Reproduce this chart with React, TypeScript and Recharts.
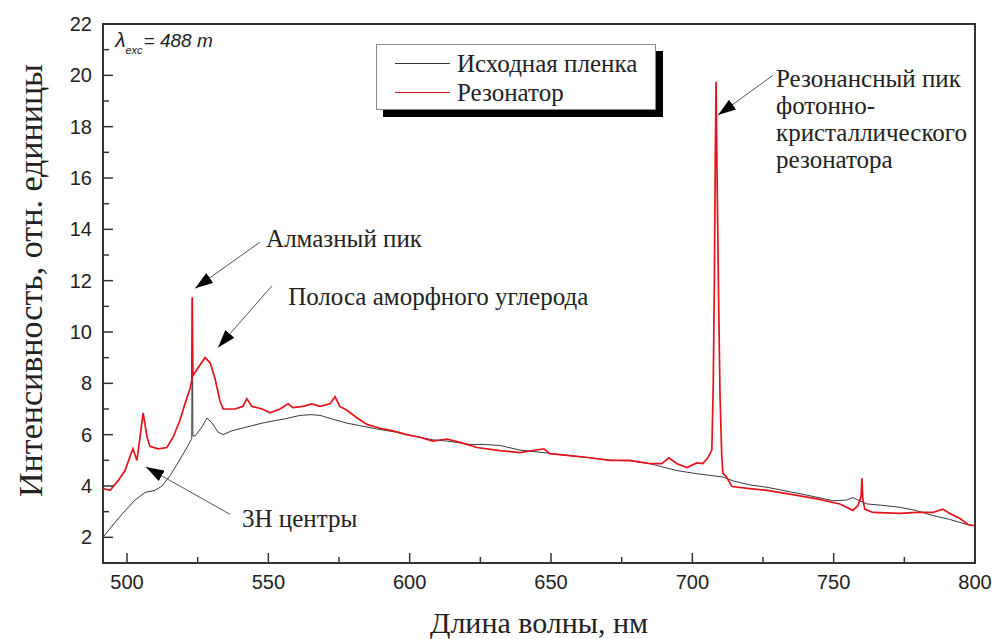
import {
  LineChart,
  Line,
  XAxis,
  YAxis,
  Label,
  Legend,
  ReferenceArea,
  ReferenceDot,
  ReferenceLine,
} from "recharts";

// wavelength (nm) / intensity
const filmNm = [
  491.5, 494.0, 498.2, 502.8, 506.4, 509.9, 512.4, 515.2, 518.0, 521.2, 522.9, 523.1, 523.3, 524.1,
  526.5, 528.3, 530.1, 532.2, 534.0, 537.1, 541.7, 547.8, 552.4, 556, 561.2, 565, 568.3, 572.9,
  577.8, 582.4, 589.5, 594.1, 599.0, 603.6, 608.2, 613.2, 617.8, 621.3, 626, 631.9, 639.0, 647.5,
  656.7, 663.8, 670.9, 677.9, 685.0, 689.2, 694.6, 701.6, 710.8, 714.4, 720, 726.4, 738.1, 749.7,
  754.5, 756.8, 758.6, 761.8, 767, 773.4, 779, 785.1, 791, 797.1, 800,
];
const filmVal = [
  2.0, 2.35, 2.9, 3.45, 3.75, 3.83, 4.0, 4.4, 4.9, 5.5, 5.85, 11.3, 5.95, 5.95,
  6.3, 6.65, 6.45, 6.1, 6.0, 6.15, 6.28, 6.45, 6.55, 6.62, 6.75, 6.78, 6.75, 6.6,
  6.45, 6.35, 6.2, 6.12, 6.0, 5.9, 5.8, 5.75, 5.68, 5.62, 5.62, 5.58, 5.4, 5.3,
  5.18, 5.1, 5.0, 4.98, 4.87, 4.75, 4.6, 4.48, 4.35, 4.2, 4.05, 3.95, 3.7, 3.43,
  3.45, 3.55, 3.45, 3.3, 3.25, 3.17, 3.05, 2.85, 2.7, 2.5, 2.45,
];

const resNm = [
  491.5, 494.0, 496.8, 499.3, 501.4, 502.1, 503.5, 504.6, 505.7, 507.1,
  508.1, 511.0, 514.1, 516.3, 518.7, 520.5, 522.3, 522.9, 523.1, 523.3,
  525.1, 527.6, 529.4, 531.1, 532.9, 534.0, 538.2, 541.0, 542.4, 544.2,
  547.8, 550.6, 554.1, 557.0, 558.7, 562.3, 565.4, 568.3, 571.8, 573.6,
  575.3, 577.8, 581.4, 584.9, 589.5, 594.1, 599.0, 603.6, 608.2, 613.2,
  617.8, 623.8, 631.9, 639.0, 647.5, 649.6, 656.7, 663.8, 670.9, 677.9,
  685.0, 689.2, 691.7, 694.6, 698.1, 701.6, 703.7, 705.5, 706.9, 707.4,
  707.8, 708.1, 708.4, 708.7, 709.2, 709.8, 710.4, 710.8, 712.2, 714.0,
  720.4, 726.4, 733.5, 744.1, 752.2, 756.8, 758.6, 759.7, 760.0, 760.3,
  761.0, 763.9, 773.4, 779.4, 785.1, 788.6, 791.1, 794.7, 797.5, 800,
];
const resVal = [
  3.9, 3.83, 4.2, 4.6, 5.25, 5.45, 5.0, 5.9, 6.85, 5.9,
  5.55, 5.45, 5.5, 5.9, 6.55, 7.2, 7.8, 8.1, 11.35, 8.3,
  8.6, 9.0, 8.8, 8.2, 7.3, 7.0, 7.0, 7.1, 7.4, 7.1,
  7.0, 6.85, 7.0, 7.2, 7.05, 7.1, 7.2, 7.1, 7.2, 7.48,
  7.1, 6.95, 6.65, 6.4, 6.25, 6.15, 6.0, 5.9, 5.75, 5.83,
  5.7, 5.5, 5.38, 5.3, 5.45, 5.26, 5.18, 5.1, 5.0, 5.0,
  4.87, 4.87, 5.1, 4.87, 4.72, 4.9, 4.87, 5.1, 5.4, 8.0,
  12.0, 16.5, 19.75, 16.5, 12.0, 7.5, 5.2, 4.5, 4.33, 3.98,
  3.9, 3.83, 3.7, 3.5, 3.3, 3.05, 3.24, 3.6, 4.3, 3.5,
  3.1, 2.97, 2.93, 2.97, 2.97, 3.1, 2.93, 2.73, 2.5, 2.45,
];

const xTicks = [500, 525, 550, 575, 600, 625, 650, 675, 700, 725, 750, 775, 800];
const yTicks = [2, 3, 4, 5, 6, 7, 8, 9, 10, 11, 12, 13, 14, 15, 16, 17, 18, 19, 20, 21, 22];

const filmData = filmNm.map((nm, i) => ({ nm, v: filmVal[i] }));
const resData = resNm.map((nm, i) => ({ nm, v: resVal[i] }));

const SANS = "'Liberation Sans', Arial, sans-serif";
const SERIF = "'Liberation Serif', 'Times New Roman', serif";
const INK = "#222";

function XTick({ x, y, payload }: any) {
  const major = payload.value % 50 === 0;
  return (
    <g>
      <line x1={x} x2={x} y1={y} y2={y - (major ? 10 : 6)} stroke="#333" strokeWidth={1.5} />
      {major && (
        <text x={x} y={y + 26} textAnchor="middle" fontFamily={SANS} fontSize={20} fill={INK}>
          {payload.value}
        </text>
      )}
    </g>
  );
}

function YTick({ x, y, payload }: any) {
  const major = payload.value % 2 === 0;
  return (
    <g>
      <line x1={x} x2={x + (major ? 10 : 6)} y1={y} y2={y} stroke="#333" strokeWidth={1.5} />
      {major && (
        <text x={x - 11} y={y + 7} textAnchor="end" fontFamily={SANS} fontSize={20} fill={INK}>
          {payload.value}
        </text>
      )}
    </g>
  );
}

function XTitle({ viewBox }: any) {
  const { x, y, width } = viewBox;
  return (
    <text x={x + width / 2} y={y + 70} textAnchor="middle" fontFamily={SERIF} fontSize={30} fill={INK}>
      Длина волны, нм
    </text>
  );
}

function YTitle({ viewBox }: any) {
  const cx = viewBox.x + 30;
  const cy = viewBox.y + viewBox.height / 2 - 13;
  return (
    <text
      x={cx}
      y={cy}
      transform={`rotate(-90 ${cx} ${cy})`}
      textAnchor="middle"
      dominantBaseline="central"
      fontFamily={SERIF}
      fontSize={34}
      fill={INK}
    >
      Интенсивность, отн. единицы
    </text>
  );
}

function LegendBox({ payload }: any) {
  return (
    <div
      style={{
        width: 280,
        height: 66,
        boxSizing: "border-box",
        border: "1px solid #888",
        background: "#fff",
        boxShadow: "7px 7px 0 #000",
        paddingTop: 4,
      }}
    >
      {(payload || []).map((p: any) => (
        <div key={p.value} style={{ display: "flex", alignItems: "center", height: 29 }}>
          <span style={{ display: "inline-block", width: 55, height: 0, borderTop: `1.3px solid ${p.color}`, marginLeft: 18, marginRight: 7 }} />
          <span style={{ fontFamily: SERIF, fontSize: 25, color: INK, lineHeight: "29px", whiteSpace: "nowrap" }}>{p.value}</span>
        </div>
      ))}
    </div>
  );
}

const arrowShape = (p: any) => (
  <line x1={p.x1} y1={p.y1} x2={p.x2} y2={p.y2} stroke="#555" strokeWidth={1} markerEnd="url(#arrowHead)" />
);

const note = (lines: string[], size = 25) => (p: any) => (
  <text x={p.cx} y={p.cy} fontFamily={SERIF} fontSize={size} fill={INK}>
    {lines.map((l, i) => (
      <tspan key={i} x={p.cx} dy={i === 0 ? 0 : 27}>
        {l}
      </tspan>
    ))}
  </text>
);

const lambdaShape = (p: any) => (
  <text x={p.cx} y={p.cy} fontFamily={SANS} fontStyle="italic" fontSize={19} fill={INK}>
    <tspan fontSize={21}>λ</tspan>
    <tspan dy={7} fontSize={11}>exc</tspan>
    <tspan dy={-7} dx={1}>= 488 m</tspan>
  </text>
);

export default function App() {
  return (
    <div style={{ position: "absolute", left: 0, top: 0, width: 992, height: 639, background: "#fff" }}>
      <LineChart width={992} height={639} margin={{ top: 24, right: 17, bottom: 0, left: 0 }}>
        <defs>
          <marker
            id="arrowHead"
            markerUnits="userSpaceOnUse"
            markerWidth={18}
            markerHeight={12}
            refX={18}
            refY={6}
            orient="auto"
          >
            <path d="M0,0 L18,6 L0,12 z" fill="#000" />
          </marker>
        </defs>
        <XAxis
          dataKey="nm"
          type="number"
          domain={[491.5, 800]}
          ticks={xTicks}
          interval={0}
          allowDataOverflow
          height={76}
          axisLine={false}
          tickLine={false}
          tickSize={0}
          tickMargin={0}
          tick={<XTick />}
        >
          <Label content={<XTitle />} />
        </XAxis>
        <YAxis
          type="number"
          domain={[1, 22]}
          ticks={yTicks}
          interval={0}
          allowDataOverflow
          width={103}
          axisLine={false}
          tickLine={false}
          tickSize={0}
          tickMargin={0}
          tick={<YTick />}
        >
          <Label content={<YTitle />} />
        </YAxis>
        <ReferenceArea x1={491.5} x2={800} y1={1} y2={22} fill="none" stroke="#333" strokeWidth={2} ifOverflow="visible" />
        <Legend
          layout="vertical"
          verticalAlign="middle"
          align="center"
          content={<LegendBox />}
          wrapperStyle={{ position: "absolute", left: 376, top: 44, width: 280, height: 66 }}
        />
        <Line
          data={filmData}
          dataKey="v"
          name="Исходная пленка"
          type="linear"
          stroke="#3a3a3a"
          strokeWidth={1}
          dot={false}
          isAnimationActive={false}
        />
        <Line
          data={resData}
          dataKey="v"
          name="Резонатор"
          type="linear"
          stroke="#e3141b"
          strokeWidth={1.7}
          dot={false}
          isAnimationActive={false}
        />
        <ReferenceLine segment={[{ x: 547.0, y: 13.5 }, { x: 524.1, y: 11.7 }]} shape={arrowShape} ifOverflow="visible" />
        <ReferenceLine segment={[{ x: 551.3, y: 11.8 }, { x: 532.2, y: 9.4 }]} shape={arrowShape} ifOverflow="visible" />
        <ReferenceLine segment={[{ x: 728.5, y: 20.0 }, { x: 709.1, y: 18.45 }]} shape={arrowShape} ifOverflow="visible" />
        <ReferenceLine segment={[{ x: 536.4, y: 2.9 }, { x: 506.7, y: 4.74 }]} shape={arrowShape} ifOverflow="visible" />
        <ReferenceDot x={549.2} y={13.3} r={0} shape={note(["Алмазный пик"])} ifOverflow="visible" />
        <ReferenceDot x={557.0} y={11.05} r={0} shape={note(["Полоса аморфного углерода"])} ifOverflow="visible" />
        <ReferenceDot
          x={729.6}
          y={19.55}
          r={0}
          shape={note(["Резонансный пик", "фотонно-", "кристаллического", "резонатора"])}
          ifOverflow="visible"
        />
        <ReferenceDot x={540.7} y={2.4} r={0} shape={note(["3Н центры"])} ifOverflow="visible" />
        <ReferenceDot x={495.8} y={21.1} r={0} shape={lambdaShape} ifOverflow="visible" />
      </LineChart>
    </div>
  );
}
